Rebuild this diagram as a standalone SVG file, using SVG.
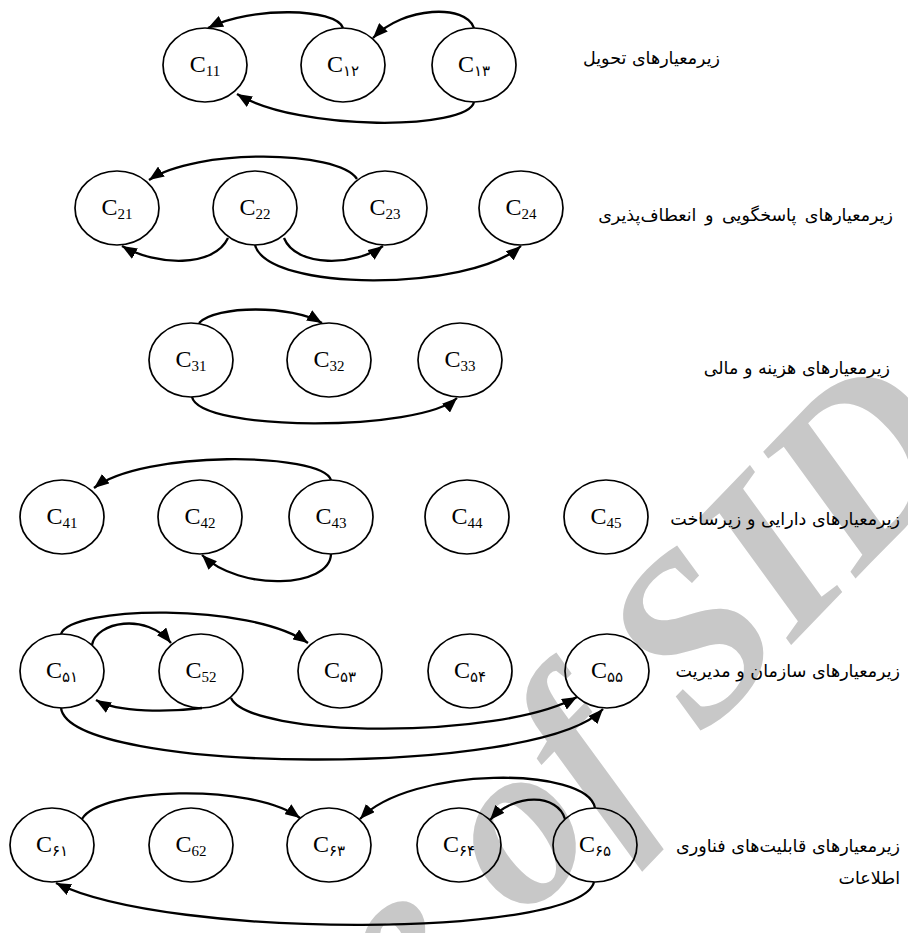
<svg xmlns="http://www.w3.org/2000/svg" width="908" height="933" viewBox="0 0 908 933">
<defs>
<style>
.n ellipse{fill:none;stroke:#000;stroke-width:1.7}
.n text{font-family:"Liberation Serif","DejaVu Sans",serif;font-size:24px;fill:#000;text-anchor:middle}
.n tspan{font-size:15px}
.e path{fill:none;stroke:#000;stroke-width:2.3;marker-end:url(#ah)}
.lbl{font-family:"DejaVu Sans","Noto Sans",sans-serif;font-size:17.5px;fill:#000;text-anchor:end}
.wm{font-family:"Liberation Serif",serif;font-style:italic;font-weight:bold;font-size:236px;fill:#c8c8c8}
</style>
<marker id="ah" markerUnits="userSpaceOnUse" markerWidth="16" markerHeight="12" refX="15" refY="6" orient="auto" viewBox="0 0 16 12">
<path d="M0,0 L15,6 L0,12 z" fill="#000"/>
</marker>
</defs>
<rect width="908" height="933" fill="#fff"/>
<g id="watermark">
<text class="wm" transform="translate(-45,1511) rotate(-46)">Archive of SID</text>
</g>
<g id="connectors" class="e">
<path d="M343,28 C336,8 252,6 208,28"/>
<path d="M474,28 C466,4 404,6 373,38"/>
<path d="M474,102 C468,130 300,132 237,94"/>
<path d="M357,179 C338,150 196,148 149,180"/>
<path d="M228,238 C214,268 156,266 122,246"/>
<path d="M284,238 C296,268 356,266 383,246"/>
<path d="M255,245 C268,292 468,292 521,246"/>
<path d="M199,323 C216,305 292,305 322,323"/>
<path d="M192,397 C200,432 420,432 457,398"/>
<path d="M331,480 C322,452 142,450 94,488"/>
<path d="M331,554 C330,588 240,592 202,555"/>
<path d="M61,634 C70,606 250,602 308,643"/>
<path d="M92,645 C96,622 146,612 171,643"/>
<path d="M202,708 C170,712 118,713 96,700"/>
<path d="M231,698 C250,738 500,740 577,697"/>
<path d="M61,708 C70,775 540,778 603,709"/>
<path d="M82,819 C100,788 250,782 300,818"/>
<path d="M595,808 C588,766 410,766 360,819"/>
<path d="M565,819 C558,794 515,792 490,820"/>
<path d="M594,882 C580,938 170,940 56,883"/>
</g>
<g id="n11" class="n"><ellipse cx="205" cy="65" rx="42" ry="37"/><text x="205" y="72">C<tspan dy="4">11</tspan></text></g>
<g id="n12" class="n"><ellipse cx="343" cy="65" rx="42" ry="37"/><text x="343" y="72">C<tspan dy="4">۱۲</tspan></text></g>
<g id="n13" class="n"><ellipse cx="474" cy="65" rx="42" ry="37"/><text x="474" y="72">C<tspan dy="4">۱۳</tspan></text></g>
<g id="n21" class="n"><ellipse cx="117" cy="208" rx="42" ry="37"/><text x="117" y="215">C<tspan dy="4">21</tspan></text></g>
<g id="n22" class="n"><ellipse cx="255" cy="208" rx="42" ry="37"/><text x="255" y="215">C<tspan dy="4">22</tspan></text></g>
<g id="n23" class="n"><ellipse cx="385" cy="208" rx="42" ry="37"/><text x="385" y="215">C<tspan dy="4">23</tspan></text></g>
<g id="n24" class="n"><ellipse cx="521" cy="208" rx="42" ry="37"/><text x="521" y="215">C<tspan dy="4">24</tspan></text></g>
<g id="n31" class="n"><ellipse cx="191" cy="360" rx="42" ry="37"/><text x="191" y="367">C<tspan dy="4">31</tspan></text></g>
<g id="n32" class="n"><ellipse cx="329" cy="360" rx="42" ry="37"/><text x="329" y="367">C<tspan dy="4">32</tspan></text></g>
<g id="n33" class="n"><ellipse cx="460" cy="360" rx="42" ry="37"/><text x="460" y="367">C<tspan dy="4">33</tspan></text></g>
<g id="n41" class="n"><ellipse cx="62" cy="517" rx="42" ry="37"/><text x="62" y="524">C<tspan dy="4">41</tspan></text></g>
<g id="n42" class="n"><ellipse cx="200" cy="517" rx="42" ry="37"/><text x="200" y="524">C<tspan dy="4">42</tspan></text></g>
<g id="n43" class="n"><ellipse cx="331" cy="517" rx="42" ry="37"/><text x="331" y="524">C<tspan dy="4">43</tspan></text></g>
<g id="n44" class="n"><ellipse cx="467" cy="517" rx="42" ry="37"/><text x="467" y="524">C<tspan dy="4">44</tspan></text></g>
<g id="n45" class="n"><ellipse cx="606" cy="517" rx="42" ry="37"/><text x="606" y="524">C<tspan dy="4">45</tspan></text></g>
<g id="n51" class="n"><ellipse cx="62" cy="671" rx="42" ry="37"/><text x="62" y="678">C<tspan dy="4">۵۱</tspan></text></g>
<g id="n52" class="n"><ellipse cx="201" cy="671" rx="42" ry="37"/><text x="201" y="678">C<tspan dy="4">52</tspan></text></g>
<g id="n53" class="n"><ellipse cx="340" cy="671" rx="42" ry="37"/><text x="340" y="678">C<tspan dy="4">۵۳</tspan></text></g>
<g id="n54" class="n"><ellipse cx="470" cy="671" rx="42" ry="37"/><text x="470" y="678">C<tspan dy="4">۵۴</tspan></text></g>
<g id="n55" class="n"><ellipse cx="607" cy="671" rx="42" ry="37"/><text x="607" y="678">C<tspan dy="4">۵۵</tspan></text></g>
<g id="n61" class="n"><ellipse cx="52" cy="845" rx="42" ry="37"/><text x="52" y="852">C<tspan dy="4">۶۱</tspan></text></g>
<g id="n62" class="n"><ellipse cx="191" cy="845" rx="42" ry="37"/><text x="191" y="852">C<tspan dy="4">62</tspan></text></g>
<g id="n63" class="n"><ellipse cx="329" cy="845" rx="42" ry="37"/><text x="329" y="852">C<tspan dy="4">۶۳</tspan></text></g>
<g id="n64" class="n"><ellipse cx="459" cy="845" rx="42" ry="37"/><text x="459" y="852">C<tspan dy="4">۶۴</tspan></text></g>
<g id="n65" class="n"><ellipse cx="595" cy="845" rx="42" ry="37"/><text x="595" y="852">C<tspan dy="4">۶۵</tspan></text></g>
<g id="labels">
<text class="lbl" x="720" y="64">زیرمعیارهای تحویل</text>
<text class="lbl" x="893" y="221" font-size="18.5" word-spacing="3">زیرمعیارهای پاسخگویی و انعطاف‌پذیری</text>
<text class="lbl" x="890" y="374">زیرمعیارهای هزینه و مالی</text>
<text class="lbl" x="900" y="525">زیرمعیارهای دارایی و زیرساخت</text>
<text class="lbl" x="900" y="677">زیرمعیارهای سازمان و مدیریت</text>
<text class="lbl" x="900" y="852">زیرمعیارهای قابلیت‌های فناوری</text>
<text class="lbl" x="900" y="884">اطلاعات</text>
</g>
</svg>
